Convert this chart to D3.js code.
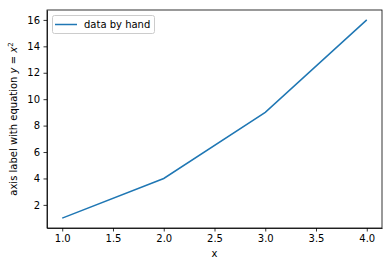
<!DOCTYPE html>
<html lang="en">
<head>
    <meta charset="UTF-8">
    <title>data by hand</title>
    <script src="https://d3js.org/d3.v7.min.js"></script>
    <style>
        body { margin: 0; background: #fff; }
        text { font-family: "DejaVu Sans", sans-serif; font-size: 10px; fill: #000; }
        .axis path, .axis line { stroke: #000; stroke-width: 0.8px; }
    </style>
</head>
<body>
    <div id="chart"></div>

    <script>
        // values taken by hand
        const xs = [1, 2, 3, 4];
        const ys = [1, 4, 9, 16];
        const xTicks = [1.0, 1.5, 2.0, 2.5, 3.0, 3.5, 4.0];
        const yTicks = [2, 4, 6, 8, 10, 12, 14, 16];
        const seriesName = 'data by hand';

        const width = 392, height = 266;
        const margin = { top: 10, right: 10, bottom: 38, left: 47 };

        const svg = d3.select('#chart').append('svg')
            .attr('width', width)
            .attr('height', height);

        const x = d3.scaleLinear()
            .domain([0.85, 4.15])
            .range([margin.left, width - margin.right]);

        const y = d3.scaleLinear()
            .domain([0.25, 16.75])
            .range([height - margin.bottom, margin.top]);

        const data = xs.map((d, i) => ({ x: d, y: ys[i] }));

        // line
        svg.append('path')
            .datum(data)
            .attr('fill', 'none')
            .attr('stroke', '#1f77b4')
            .attr('stroke-width', 1.5)
            .attr('d', d3.line().x(d => x(d.x)).y(d => y(d.y)));

        // axes
        svg.append('g')
            .attr('class', 'axis')
            .attr('transform', `translate(0,${height - margin.bottom})`)
            .call(d3.axisBottom(x).tickValues(xTicks).tickFormat(d3.format('.1f')).tickSizeInner(3.5).tickSizeOuter(0).tickPadding(3.5));

        svg.append('g')
            .attr('class', 'axis')
            .attr('transform', `translate(${margin.left},0)`)
            .call(d3.axisLeft(y).tickValues(yTicks).tickFormat(d3.format('d')).tickSizeInner(3.5).tickSizeOuter(0).tickPadding(3.5));

        svg.selectAll('.axis text').attr('font-family', null).attr('font-size', null);

        // frame
        svg.append('rect')
            .attr('x', margin.left)
            .attr('y', margin.top)
            .attr('width', width - margin.left - margin.right)
            .attr('height', height - margin.top - margin.bottom)
            .attr('fill', 'none')
            .attr('stroke', '#000')
            .attr('stroke-width', 0.8);

        // axis labels
        svg.append('text')
            .attr('x', (margin.left + width - margin.right) / 2)
            .attr('y', 257)
            .attr('text-anchor', 'middle')
            .text('x');

        const yl = svg.append('text')
            .attr('transform', `translate(17,${(margin.top + height - margin.bottom) / 2}) rotate(-90)`)
            .attr('text-anchor', 'middle');
        yl.append('tspan').text('axis label with equation ');
        yl.append('tspan').attr('font-style', 'italic').text('y');
        yl.append('tspan').text(' = ');
        yl.append('tspan').attr('font-style', 'italic').text('x');
        yl.append('tspan').attr('font-size', '7px').attr('dy', -4).text('2');

        // legend
        const lg = svg.append('g');
        lg.append('rect')
            .attr('x', 52.5).attr('y', 15.5)
            .attr('width', 102).attr('height', 18)
            .attr('rx', 2)
            .attr('fill', '#fff')
            .attr('fill-opacity', 0.8)
            .attr('stroke', '#ccc')
            .attr('stroke-width', 1);
        lg.append('line')
            .attr('x1', 55).attr('x2', 77)
            .attr('y1', 24.5).attr('y2', 24.5)
            .attr('stroke', '#1f77b4')
            .attr('stroke-width', 1.5);
        lg.append('text')
            .attr('x', 84).attr('y', 28)
            .text(seriesName);
    </script>
</body>
</html>
